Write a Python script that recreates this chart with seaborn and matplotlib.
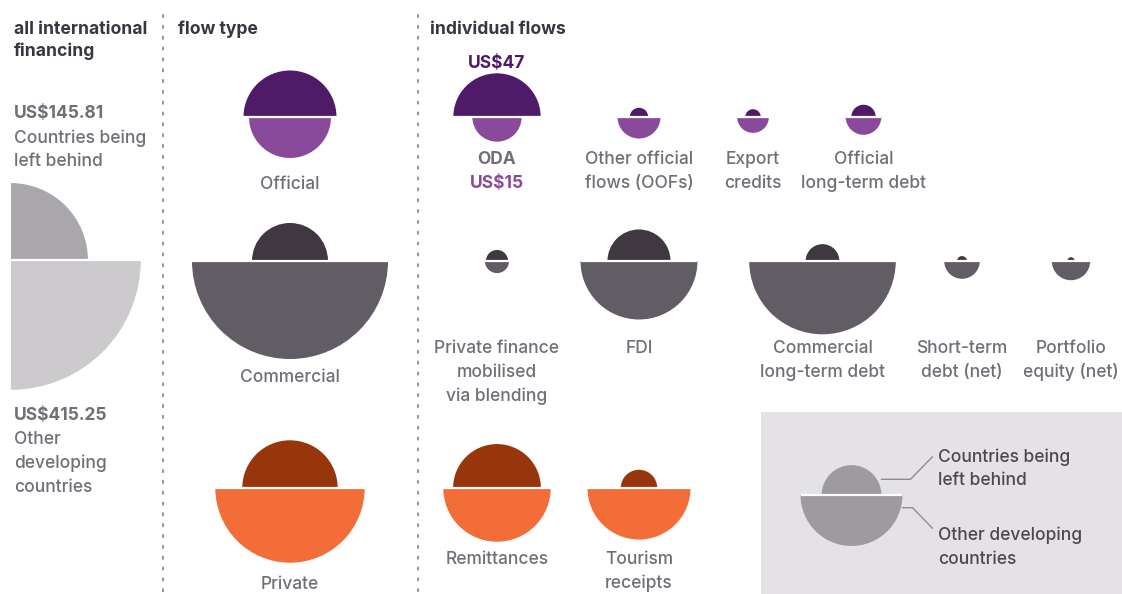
import numpy as np
import matplotlib.pyplot as plt
from matplotlib.patches import Wedge, Rectangle
import seaborn as sns

# Értékek (US$ milliárd): felső félkör = lemaradó országok, alsó = többi fejlődő ország
total_values = [145.81, 415.25]
total_labels = ["Countries being\nleft behind", "Other\ndeveloping\ncountries"]

flow_types = ["Official", "Commercial", "Private"]
flow_left_behind = [53.3, 35.6, 56.1]
flow_other = [41.4, 236.7, 137.5]

official_names = ["ODA", "Other official\nflows (OOFs)", "Export\ncredits", "Official\nlong-term debt"]
official_left_behind = [47, 2.1, 1.5, 3.7]
official_other = [15, 11.4, 6.2, 7.8]

commercial_names = ["Private finance\nmobilised\nvia blending", "FDI", "Commercial\nlong-term debt",
                    "Short-term\ndebt (net)", "Portfolio\nequity (net)"]
commercial_left_behind = [3.0, 24.5, 7.0, 0.6, 0.35]
commercial_other = [3.6, 84.3, 132.4, 7.8, 9.1]

private_names = ["Remittances", "Tourism\nreceipts"]
private_left_behind = [47.5, 8.2]
private_other = [71.1, 65.4]

legend_names = ["Countries being\nleft behind", "Other developing\ncountries"]
legend_values = [22, 64]

# Színek
colors = {
    "Official": ("#4f1b68", "#8a4a9b"),
    "Commercial": ("#3f3840", "#625c64"),
    "Private": ("#96360a", "#f26d37"),
}
text_gray = "#736d77"
head_color = "#3b3540"

sns.set_style("white")
plt.rcParams["font.family"] = ["Inter", "DejaVu Sans"]

W, H = 1122, 594
K = 6.37  # pixel / sqrt(US$bn) - terület arányos az értékkel
FS = 12.5


def radius(v):
    return K * np.sqrt(v)


def put_text(ax, x, y, s, ha="center", color=text_gray, weight="medium", size=FS, step=24):
    # y a sor vizuális közepe, soronként rajzolva
    for i, line in enumerate(s.split("\n")):
        ax.text(x, y + i * step + 6, line, ha=ha, va="baseline", color=color,
                fontsize=size, fontweight=weight)


def split_disc(ax, x, y, v_top, v_bot, c_top, c_bot):
    r1, r2 = radius(v_top), radius(v_bot)
    ax.add_patch(Wedge((x, y), r1, 180, 360, facecolor=c_top, edgecolor="none"))
    ax.add_patch(Wedge((x, y), r2, 0, 180, facecolor=c_bot, edgecolor="none"))
    r = max(r1, r2)
    ax.plot([x - r, x + r], [y, y], color="white", lw=1.6, solid_capstyle="butt")


fig = plt.figure(figsize=(11.22, 5.94), dpi=100)
ax = fig.add_axes([0, 0, 1, 1])
ax.set_xlim(0, W)
ax.set_ylim(H, 0)
ax.axis("off")

# Pontozott elválasztók
for x in [163.5, 418]:
    ax.plot([x, x], [15, H], color="#9a96a0", lw=1.5, linestyle=(0, (1, 4.2)),
            dash_capstyle="round")

# Címek
put_text(ax, 14, 28, "all international\nfinancing", ha="left", color=head_color, weight="bold", step=22, size=12.6)
put_text(ax, 178, 28, "flow type", ha="left", color=head_color, weight="bold", size=12.6)
put_text(ax, 430, 28, "individual flows", ha="left", color=head_color, weight="bold", size=12.6)

# Összes nemzetközi finanszírozás (negyedkörök)
cx, cy = 11, 260
r_top, r_bot = radius(total_values[0]), radius(total_values[1])
ax.add_patch(Wedge((cx, cy), r_top, 270, 360, facecolor="#a9a7ac", edgecolor="none"))
ax.add_patch(Wedge((cx, cy), r_bot, 0, 90, facecolor="#cdcace", edgecolor="none"))
ax.plot([cx, cx + r_bot], [cy, cy], color="white", lw=1.6)
put_text(ax, 14, 112, f"US${total_values[0]:.2f}", ha="left", weight="bold")
put_text(ax, 14, 137, total_labels[0], ha="left", step=23.5)
put_text(ax, 14, 414, f"US${total_values[1]:.2f}", ha="left", weight="bold")
put_text(ax, 14, 438, total_labels[1], ha="left", step=24)

# Folyamtípusok
row_y = [117, 261, 488]
flow_label_y = [183, 376, 583]
for i, name in enumerate(flow_types):
    split_disc(ax, 290, row_y[i], flow_left_behind[i], flow_other[i], *colors[name])
    put_text(ax, 290, flow_label_y[i], name)

# Egyedi folyamok
rows = [
    ("Official", official_names, official_left_behind, official_other, [497, 639, 753, 863.5], 158.5),
    ("Commercial", commercial_names, commercial_left_behind, commercial_other, [497, 639, 822.5, 962, 1071], 346.7),
    ("Private", private_names, private_left_behind, private_other, [497, 639], 558.3),
]
for (kind, names, lb, oth, xs, ly), y in zip(rows, row_y):
    for name, a, b, x in zip(names, lb, oth, xs):
        split_disc(ax, x, y, a, b, *colors[kind])
        if name == "ODA":
            put_text(ax, x, ly, name, weight="bold")
            put_text(ax, x, ly + 24, f"US${b}", weight="bold", color=colors[kind][1])
            put_text(ax, x, 61.5, f"US${a}", weight="bold", color=colors[kind][0])
        else:
            put_text(ax, x, ly, name)

# Jelmagyarázat
ax.add_patch(Rectangle((761, 412), W - 761, H - 412, facecolor="#e4e2e5", edgecolor="none"))
lx, ly = 851.5, 495
split_disc(ax, lx, ly, legend_values[0], legend_values[1], "#9e9ba0", "#9e9ba0")
ax.plot([lx + radius(legend_values[0]), 910.5, 932.5], [479.3, 479.3, 456.7], color="#8f8c93", lw=1)
ax.plot([lx + radius(legend_values[1]), 912.5, 932.5], [507.7, 507.7, 528.3], color="#8f8c93", lw=1)
put_text(ax, 938.5, 455.7, legend_names[0], ha="left", color="#4d4850", step=23.6)
put_text(ax, 938.5, 534, legend_names[1], ha="left", color="#4d4850", step=23.7)

fig.savefig("out.png", dpi=100)
